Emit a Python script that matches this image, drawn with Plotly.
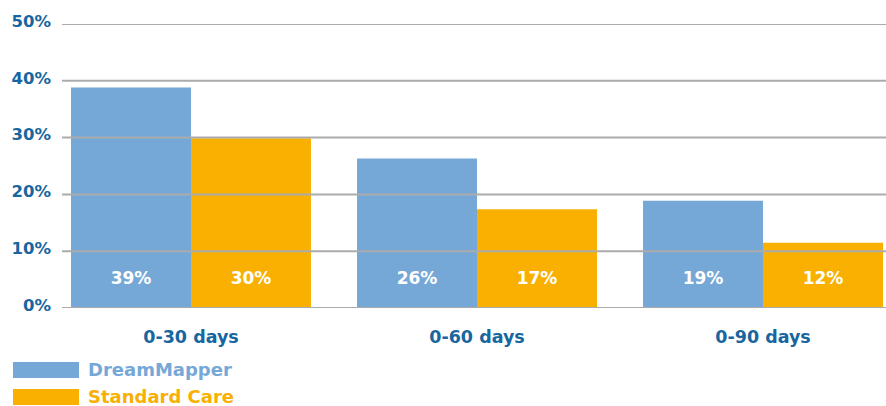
import plotly.graph_objects as go

categories = ["0-30 days", "0-60 days", "0-90 days"]
series_names = ["DreamMapper", "Standard Care"]
dreammapper = [38.8, 26.3, 18.9]
standard_care = [29.9, 17.4, 11.5]
dreammapper_labels = ["39%", "26%", "19%"]
standard_care_labels = ["30%", "17%", "12%"]
y_ticks = [0, 10, 20, 30, 40, 50]
y_tick_labels = ["0%", "10%", "20%", "30%", "40%", "50%"]

colors = ["#76A8D7", "#F9B000"]
axis_color = "#17669F"
grid_color = "#ABABAB"
FONT = "DejaVu Sans"
LABEL_Y = 5
GAP = 0.161

W, H = 886, 406
ML, MT, MB = 62, 24, 406 - 308

values = [dreammapper, standard_care]
labels = [dreammapper_labels, standard_care_labels]

fig = go.Figure()
for name, vals, col in zip(series_names, values, colors):
    fig.add_trace(go.Bar(x=categories, y=vals, name=name, marker=dict(color=col, line=dict(width=0)),
                         offsetgroup=name, showlegend=False, hoverinfo="skip"))
for name, labs in zip(series_names, labels):
    fig.add_trace(go.Scatter(x=categories, y=[LABEL_Y] * len(categories), mode="text", text=labs,
                             offsetgroup=name, showlegend=False, hoverinfo="skip",
                             textfont=dict(color="white", size=17, family=FONT, weight="bold")))

shapes = []
for t in y_ticks:
    shapes.append(dict(type="line", xref="paper", yref="y", x0=0, x1=1, y0=t, y1=t,
                       line=dict(color=grid_color, width=2), layer="above"))

fig.update_layout(
    width=W, height=H,
    margin=dict(l=ML, r=0, t=MT, b=MB),
    paper_bgcolor="white", plot_bgcolor="white",
    barmode="group", bargap=GAP, bargroupgap=0,
    scattermode="group", scattergap=GAP,
    xaxis=dict(range=[-0.451, 2.430], showgrid=False, showline=False, zeroline=False, ticks="",
               tickfont=dict(color=axis_color, size=17.5, family=FONT, weight="bold"),
               ticklabelstandoff=16, fixedrange=True),
    yaxis=dict(range=[0, 50], tickvals=y_ticks, ticktext=y_tick_labels, showgrid=False,
               zeroline=False, showline=False, ticks="",
               tickfont=dict(color=axis_color, size=16.5, family=FONT, weight="bold"),
               ticklabelstandoff=10, ticklabelshift=-3, fixedrange=True),
    shapes=shapes,
    showlegend=False,
    hovermode=False,
)

H_PLOT = H - MT - MB
W_PLOT = W - ML


def px_x(p):
    return (p - ML) / W_PLOT


def px_y(p):
    return (H - MB - p) / H_PLOT


legend_tops = [362, 389]
for name, col, top in zip(series_names, colors, legend_tops):
    fig.add_shape(type="rect", xref="paper", yref="paper", x0=px_x(13), x1=px_x(79),
                  y0=px_y(top + 16), y1=px_y(top), fillcolor=col, line=dict(width=0))
    fig.add_annotation(xref="paper", yref="paper", x=px_x(86), y=px_y(top + 7), text=name,
                       showarrow=False, xanchor="left", yanchor="middle",
                       font=dict(color=col, size=18, family=FONT, weight="bold"))

fig.write_html("out.html", config={"displayModeBar": False, "staticPlot": True},
               post_script="document.body.style.margin='0';document.body.style.overflow='hidden';")
